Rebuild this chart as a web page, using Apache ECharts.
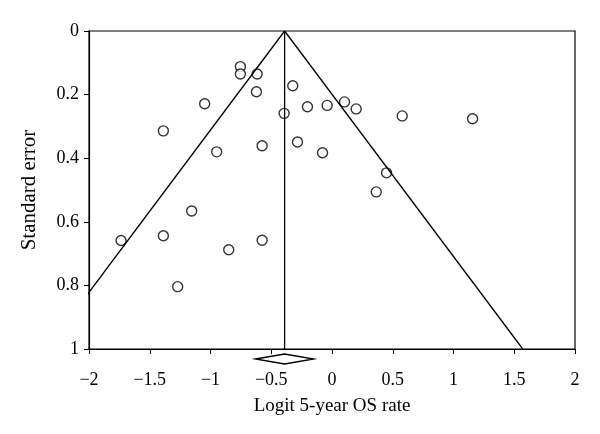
<!DOCTYPE html>
<html>
<head>
<meta charset="utf-8">
<script src="https://cdn.jsdelivr.net/npm/echarts@6/dist/echarts.min.js"></script>
<style>
  html, body { margin: 0; padding: 0; background: #fff; }
  #chart { width: 600px; height: 434px; }
</style>
</head>
<body>
<div id="chart"></div>
<script>
// study estimates: logit 5-year OS rate and its standard error
const logitRate = [
  -0.754, -0.754, -0.616, -0.622, -0.323, -1.048, -0.202, -0.040, 0.103,
  0.199, -0.394, -1.388, -0.949, -0.575, -0.284, -0.078, 0.364, 0.578,
  1.157, 0.449, -1.736, -1.388, -1.155, -0.850, -0.575, -1.270
];
const stdError = [
  0.112, 0.135, 0.135, 0.191, 0.172, 0.229, 0.238, 0.234, 0.223,
  0.245, 0.259, 0.314, 0.380, 0.361, 0.349, 0.383, 0.506, 0.267,
  0.276, 0.446, 0.659, 0.644, 0.566, 0.688, 0.658, 0.804
];

// pooled estimate and its 95% CI (diamond)
const pooled = -0.39;
const pooledCI = [-0.63, -0.15];

const xTicks = [-2, -1.5, -1, -0.5, 0, 0.5, 1, 1.5, 2];
const yTicks = [0, 0.2, 0.4, 0.6, 0.8, 1];

const font = "'Liberation Serif', 'Times New Roman', serif";
const fmt = (v) => (v < 0 ? "\u2212" + Math.abs(v) : String(v));

const points = logitRate.map((x, i) => [x, stdError[i]]);
const funnelLeft = [[pooled, 0], [pooled - 1.96, 1]];
const funnelRight = [[pooled, 0], [pooled + 1.96, 1]];
const centerLine = [[pooled, 0], [pooled, 1]];

const chart = echarts.init(document.getElementById("chart"));
const lineStyle = { color: "#000", width: 1.3 };

chart.setOption({
  animation: false,
  grid: {
    left: 89, right: 25, top: 31, bottom: 85,
    show: true, borderColor: "#000", borderWidth: 1.2,
  },
  xAxis: {
    type: "value",
    min: xTicks[0], max: xTicks[xTicks.length - 1], interval: 0.5,
    name: "Logit 5-year OS rate",
    nameLocation: "middle", nameGap: 48,
    nameTextStyle: { fontFamily: font, fontSize: 19, color: "#000" },
    splitLine: { show: false },
    axisLine: { onZero: false, lineStyle: { color: "#000", width: 1.2 } },
    axisTick: { length: 5, lineStyle: { color: "#000" } },
    axisLabel: {
      margin: 22, fontFamily: font, fontSize: 18, color: "#000",
      formatter: (v) => fmt(v),
    },
  },
  yAxis: {
    type: "value", inverse: true,
    min: yTicks[0], max: yTicks[yTicks.length - 1], interval: 0.2,
    name: "Standard error",
    nameLocation: "middle", nameGap: 49,
    nameTextStyle: { fontFamily: font, fontSize: 21, color: "#000" },
    splitLine: { show: false },
    axisLine: { onZero: false, lineStyle: { color: "#000", width: 1.2 } },
    axisTick: { length: 5, lineStyle: { color: "#000" } },
    axisLabel: {
      margin: 10, fontFamily: font, fontSize: 18, color: "#000",
      formatter: (v) => fmt(+v.toFixed(1)),
    },
  },
  series: [
    { type: "line", data: funnelLeft, symbol: "none", lineStyle, clip: true },
    { type: "line", data: funnelRight, symbol: "none", lineStyle, clip: true },
    { type: "line", data: centerLine, symbol: "none", lineStyle },
    {
      type: "scatter",
      data: points,
      symbol: "circle",
      symbolSize: 10,
      itemStyle: { color: "#fff", borderColor: "#000", borderWidth: 1.4 },
    },
    {
      type: "custom",
      clip: false,
      data: [[pooledCI[0], pooled, pooledCI[1]]],
      renderItem: (params, api) => {
        const lo = api.coord([api.value(0), 1]);
        const mid = api.coord([api.value(1), 1]);
        const hi = api.coord([api.value(2), 1]);
        const cy = lo[1] + 10;
        return {
          type: "polygon",
          shape: {
            points: [[lo[0], cy], [mid[0], cy - 5], [hi[0], cy], [mid[0], cy + 5]],
          },
          style: { fill: "#fff", stroke: "#000", lineWidth: 1.3 },
        };
      },
    },
  ],
});
</script>
</body>
</html>
